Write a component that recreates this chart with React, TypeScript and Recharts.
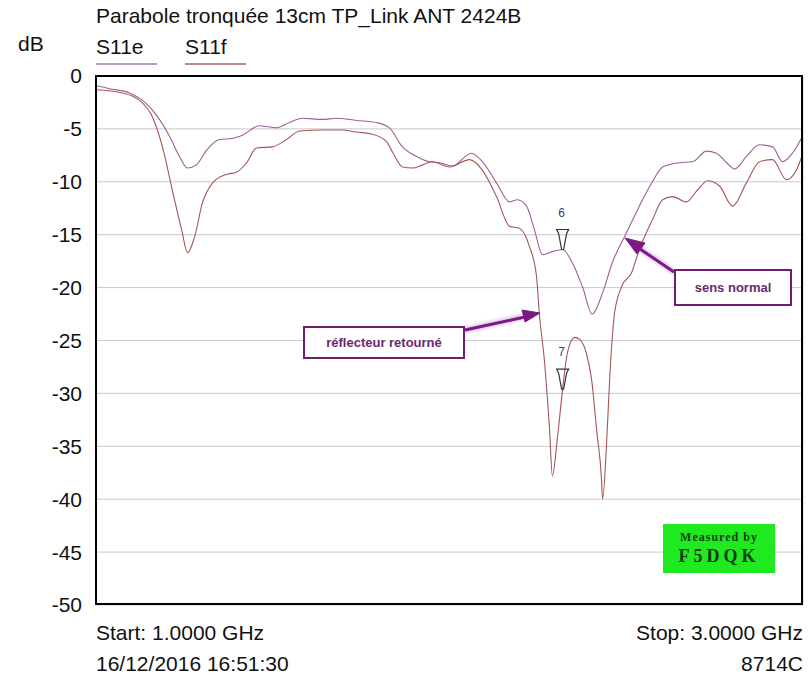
import React from 'react';
import {
  LineChart,
  Line,
  XAxis,
  YAxis,
  CartesianGrid,
  Legend,
  ReferenceDot,
} from 'recharts';

// frequency (GHz) and return loss (dB)
const freqE = [
  1.0, 1.038, 1.095, 1.132, 1.171, 1.208, 1.236, 1.259, 1.284, 1.313, 1.349, 1.386, 1.414,
  1.462, 1.511, 1.547, 1.584, 1.641, 1.68, 1.737, 1.793, 1.83, 1.867, 1.907, 1.943, 1.972,
  2.008, 2.062, 2.093, 2.133, 2.17, 2.192, 2.218, 2.24, 2.263, 2.291, 2.32, 2.348, 2.376,
  2.404, 2.433, 2.461, 2.501, 2.537, 2.574, 2.603, 2.651, 2.688, 2.727, 2.755, 2.784, 2.806,
  2.84, 2.877, 2.914, 2.942, 2.97, 3.0,
];
const dbE = [
  -0.9, -1.2, -1.6, -2.3, -3.7, -5.7, -7.6, -8.7, -8.4, -7.0, -6.0, -5.9, -5.6,
  -4.7, -4.9, -4.4, -4.0, -4.1, -4.0, -4.2, -4.4, -4.9, -6.7, -7.6, -8.1, -8.2,
  -8.5, -7.3, -8.1, -10.1, -11.9, -11.7, -12.3, -14.5, -16.9, -16.6, -16.4, -17.7, -19.9,
  -22.5, -20.5, -17.6, -14.8, -12.3, -10.0, -8.6, -8.2, -8.1, -7.1, -7.3, -8.2, -8.8,
  -7.6, -6.5, -6.7, -8.1, -7.3, -5.6,
];

const freqF = [
  1.0, 1.075, 1.123, 1.16, 1.188, 1.216, 1.242, 1.259, 1.279, 1.301, 1.33, 1.369, 1.397,
  1.426, 1.454, 1.499, 1.539, 1.576, 1.641, 1.697, 1.737, 1.782, 1.822, 1.839, 1.867, 1.895,
  1.924, 1.952, 2.0, 2.057, 2.093, 2.133, 2.17, 2.198, 2.226, 2.246, 2.254, 2.269, 2.283,
  2.291, 2.305, 2.32, 2.334, 2.354, 2.368, 2.388, 2.402, 2.416, 2.43, 2.433, 2.444, 2.453,
  2.467, 2.487, 2.515, 2.537, 2.574, 2.603, 2.631, 2.67, 2.701, 2.73, 2.764, 2.801, 2.84,
  2.877, 2.914, 2.953, 2.981, 3.0,
];
const dbF = [
  -1.3, -1.6, -2.3, -3.9, -6.7, -10.8, -14.5, -16.7, -15.2, -12.0, -10.1, -9.3, -9.1,
  -8.2, -6.8, -6.7, -6.0, -5.2, -5.1, -5.1, -5.3, -5.5, -6.2, -7.2, -8.6, -8.7,
  -8.4, -8.1, -8.6, -7.9, -8.9, -11.4, -14.2, -14.4, -16.1, -18.9, -22.4, -27.1, -33.4,
  -37.8, -34.3, -29.6, -26.1, -24.7, -24.9, -26.3, -28.7, -33.4, -38.1, -40.0, -35.0, -28.7,
  -22.4, -19.9, -18.6, -16.4, -13.6, -11.7, -11.4, -11.9, -10.8, -9.9, -10.4, -12.3, -10.1,
  -8.1, -7.9, -9.8, -8.9, -7.3,
];

const xTicks = [1, 1.2, 1.4, 1.6, 1.8, 2, 2.2, 2.4, 2.6, 2.8, 3];
const yTicks = [0, -5, -10, -15, -20, -25, -30, -35, -40, -45, -50];

const markers = [
  { name: '6', f: 2.32, db: -16.4 },
  { name: '7', f: 2.32, db: -29.6 },
];

const series = [
  { key: 'S11e', color: '#9b6096', legend: '#b59ac4' },
  { key: 'S11f', color: '#a65656', legend: '#b98a8a' },
];

const dataE = freqE.map((f, i) => ({ f, db: dbE[i] }));
const dataF = freqF.map((f, i) => ({ f, db: dbF[i] }));

const FONT = 'Arial, "Liberation Sans", sans-serif';
const PURPLE = '#6e1d72';
const TXT = 21;

function LegendContent() {
  return (
    <div style={{ display: 'flex', gap: 28, fontFamily: FONT, fontSize: TXT, color: '#111' }}>
      {series.map((s) => (
        <div key={s.key} style={{ width: 61 }}>
          <div style={{ lineHeight: '24px' }}>{s.key}</div>
          <div style={{ height: 2, background: s.legend, marginTop: 4 }} />
        </div>
      ))}
    </div>
  );
}

function Marker(props: any) {
  const { cx, cy, payload } = props;
  return (
    <g>
      <path
        d={`M${cx - 6},${cy - 20} L${cx + 6},${cy - 20} L${cx + 4},${cy - 16} L${cx + 1},${cy} L${cx - 1},${cy} L${cx - 4},${cy - 16} Z`}
        fill="none"
        stroke="#333"
        strokeWidth={1.2}
      />
      <text x={cx - 1} y={cy - 33} textAnchor="middle" fontSize={12} fontFamily={FONT} fill="#3a4560">
        {payload}
      </text>
    </g>
  );
}

export default function App() {
  return (
    <div style={{ position: 'absolute', left: 0, top: 0, width: 811, height: 677, background: '#fff', fontFamily: FONT }}>
      <LineChart width={811} height={677} margin={{ top: 76, right: 8, bottom: 72, left: 0 }}>
        <CartesianGrid stroke="#c8c8c8" strokeWidth={1} />
        <XAxis
          dataKey="f"
          type="number"
          domain={[1, 3]}
          ticks={xTicks}
          tick={false}
          axisLine={false}
          tickLine={false}
          height={0}
          allowDataOverflow
        />
        <YAxis
          type="number"
          domain={[-50, 0]}
          ticks={yTicks}
          width={96}
          axisLine={false}
          tickLine={false}
          tickSize={0}
          tickMargin={14}
          interval={0}
          tick={{ fontSize: TXT, fill: '#111', fontFamily: FONT }}
        />
        <Legend
          layout="horizontal"
          verticalAlign="middle"
          align="center"
          content={<LegendContent />}
          wrapperStyle={{ top: 35, left: 96, width: 200 }}
        />
        <Line
          data={dataE}
          dataKey="db"
          name="S11e"
          stroke={series[0].color}
          strokeWidth={1.1}
          dot={false}
          type="monotone"
          isAnimationActive={false}
        />
        <Line
          data={dataF}
          dataKey="db"
          name="S11f"
          stroke={series[1].color}
          strokeWidth={1.1}
          dot={false}
          type="monotone"
          isAnimationActive={false}
        />
        {markers.map((m) => (
          <ReferenceDot
            key={m.name}
            x={m.f}
            y={m.db}
            r={0}
            shape={(p: any) => <Marker {...p} payload={m.name} />}
          />
        ))}
      </LineChart>

      {/* plot frame */}
      <div style={{ position: 'absolute', left: 95, top: 75, width: 708, height: 530, border: '2px solid #000', boxSizing: 'border-box', pointerEvents: 'none' }} />

      {/* titles and footer */}
      <div style={{ position: 'absolute', left: 96, top: 4, fontSize: TXT, color: '#111', whiteSpace: 'nowrap' }}>
        Parabole tronquée 13cm TP_Link ANT 2424B
      </div>
      <div style={{ position: 'absolute', left: 18, top: 32, fontSize: TXT, color: '#111' }}>dB</div>
      <div style={{ position: 'absolute', left: 96, top: 621, fontSize: TXT, color: '#111', whiteSpace: 'nowrap' }}>Start: 1.0000 GHz</div>
      <div style={{ position: 'absolute', left: 96, top: 652, fontSize: TXT, color: '#111', whiteSpace: 'nowrap' }}>16/12/2016 16:51:30</div>
      <div style={{ position: 'absolute', right: 8, top: 621, fontSize: TXT, color: '#111', whiteSpace: 'nowrap' }}>Stop: 3.0000 GHz</div>
      <div style={{ position: 'absolute', right: 8, top: 652, fontSize: TXT, color: '#111', whiteSpace: 'nowrap' }}>8714C</div>

      {/* measured-by stamp */}
      <div
        style={{
          position: 'absolute', left: 663, top: 524, width: 112, height: 49, background: '#1fe91f',
          fontFamily: '"Liberation Serif", "Times New Roman", serif', fontWeight: 'bold', color: '#143a14', textAlign: 'center',
        }}
      >
        <div style={{ fontSize: 12, letterSpacing: 1, marginTop: 6, lineHeight: '14px' }}>Measured by</div>
        <div style={{ fontSize: 18, letterSpacing: 4, lineHeight: '22px', marginTop: 1 }}>F5DQK</div>
      </div>

      {/* annotations */}
      <svg width={811} height={677} style={{ position: 'absolute', left: 0, top: 0, pointerEvents: 'none' }}>
        <defs>
          <filter id="glow" x="-20%" y="-50%" width="140%" height="200%">
            <feGaussianBlur stdDeviation="1.5" />
          </filter>
        </defs>
        <g stroke="#c9a0d8" strokeWidth={6} fill="#c9a0d8" opacity={0.6} filter="url(#glow)">
          <line x1={674} y1={272} x2={636} y2={246} />
          <line x1={465} y1={330} x2={522} y2={317} />
        </g>
        <g stroke="#7b1a86" strokeWidth={3} fill="#7b1a86">
          <line x1={674} y1={272} x2={640} y2={249} />
          <polygon points="625,238 645,243 637,254" strokeWidth={1} />
          <line x1={465} y1={330} x2={525} y2={317} />
          <polygon points="540,313 522,310 525,322" strokeWidth={1} />
        </g>
      </svg>
      <div
        style={{
          position: 'absolute', left: 674, top: 269, width: 118, height: 37, border: `2px solid ${PURPLE}`, boxSizing: 'border-box',
          background: '#fff', color: '#6a2a6e', fontWeight: 'bold', fontSize: 13, display: 'flex', alignItems: 'center', justifyContent: 'center',
        }}
      >
        sens normal
      </div>
      <div
        style={{
          position: 'absolute', left: 303, top: 326, width: 162, height: 33, border: `2px solid ${PURPLE}`, boxSizing: 'border-box',
          background: '#fff', color: '#6a2a6e', fontWeight: 'bold', fontSize: 13, display: 'flex', alignItems: 'center', justifyContent: 'center',
        }}
      >
        réflecteur retourné
      </div>
    </div>
  );
}
